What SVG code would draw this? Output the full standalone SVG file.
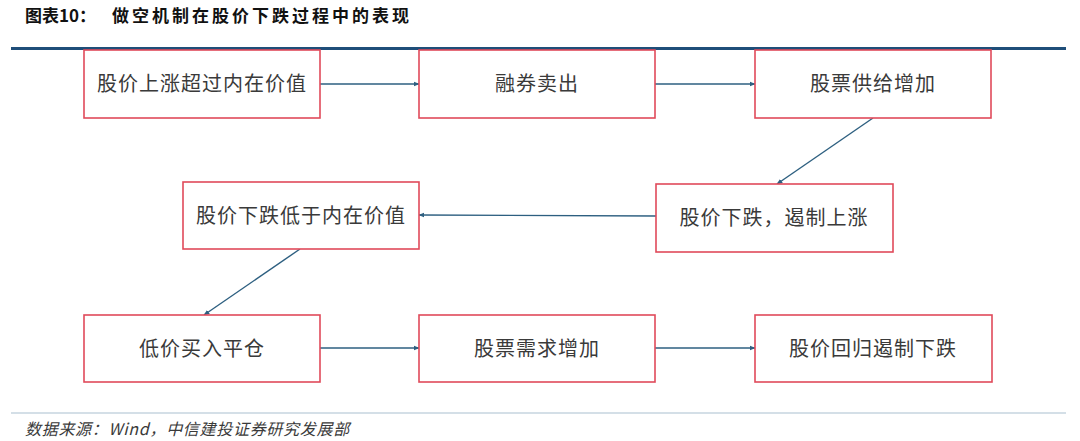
<svg xmlns="http://www.w3.org/2000/svg" width="1080" height="441" viewBox="0 0 1080 441">
  <defs>
    <style>
      .box { fill: #ffffff; stroke: #e04a5a; stroke-width: 1.6; }
      .lbl { font-family: "Noto Sans CJK SC", "Noto Sans", sans-serif; font-size: 20px; fill: #3a3a3a; text-anchor: middle; letter-spacing: 1px; }
      .conn { stroke: #2d5f80; stroke-width: 1.4; fill: none; marker-end: url(#arr); }
    </style>
    <marker id="arr" viewBox="0 0 10 10" refX="9" refY="5" markerWidth="6" markerHeight="6" orient="auto" markerUnits="userSpaceOnUse">
      <path d="M0,1 L10,5 L0,9 Z" fill="#2d5f80"/>
    </marker>
  </defs>
  <rect width="1080" height="441" fill="#ffffff"/>

  <text x="25" y="22" font-family="'Noto Sans CJK SC', sans-serif" font-size="17" font-weight="bold" fill="#111">图表10：</text>
  <text x="112" y="22" font-family="'Noto Sans CJK SC', sans-serif" font-size="17" font-weight="bold" fill="#111" letter-spacing="3">做空机制在股价下跌过程中的表现</text>
  <line x1="11" y1="48.5" x2="1066" y2="48.5" stroke="#1f4e79" stroke-width="3"/>

  <g id="connectors">
    <line class="conn" x1="320" y1="84" x2="419" y2="84"/>
    <line class="conn" x1="655" y1="84" x2="755" y2="84"/>
    <line class="conn" x1="873" y1="118" x2="777" y2="184"/>
    <line class="conn" x1="656" y1="216" x2="419" y2="215"/>
    <line class="conn" x1="300" y1="249" x2="204" y2="315"/>
    <line class="conn" x1="320" y1="348" x2="419" y2="348"/>
    <line class="conn" x1="655" y1="348" x2="755" y2="348"/>
  </g>

  <g id="n1"><rect class="box" x="84" y="50" width="236" height="68"/><text class="lbl" x="202" y="91">股价上涨超过内在价值</text></g>
  <g id="n2"><rect class="box" x="419" y="50" width="236" height="68"/><text class="lbl" x="537" y="91">融券卖出</text></g>
  <g id="n3"><rect class="box" x="755" y="50" width="236" height="68"/><text class="lbl" x="873" y="91">股票供给增加</text></g>
  <g id="n4"><rect class="box" x="656" y="184" width="237" height="68"/><text class="lbl" x="774" y="225">股价下跌，遏制上涨</text></g>
  <g id="n5"><rect class="box" x="183" y="182" width="236" height="67"/><text class="lbl" x="301" y="223">股价下跌低于内在价值</text></g>
  <g id="n6"><rect class="box" x="84" y="315" width="236" height="67"/><text class="lbl" x="202" y="356">低价买入平仓</text></g>
  <g id="n7"><rect class="box" x="419" y="315" width="236" height="67"/><text class="lbl" x="537" y="356">股票需求增加</text></g>
  <g id="n8"><rect class="box" x="755" y="315" width="237" height="67"/><text class="lbl" x="873" y="356">股价回归遏制下跌</text></g>

  <line x1="11" y1="413" x2="1066" y2="413" stroke="#a9bfcf" stroke-width="1.2"/>
  <text x="25" y="435" font-family="'Noto Sans CJK SC', sans-serif" font-size="16" font-style="italic" fill="#3a3a3a" letter-spacing="0.7">数据来源：Wind，中信建投证券研究发展部</text>
</svg>
